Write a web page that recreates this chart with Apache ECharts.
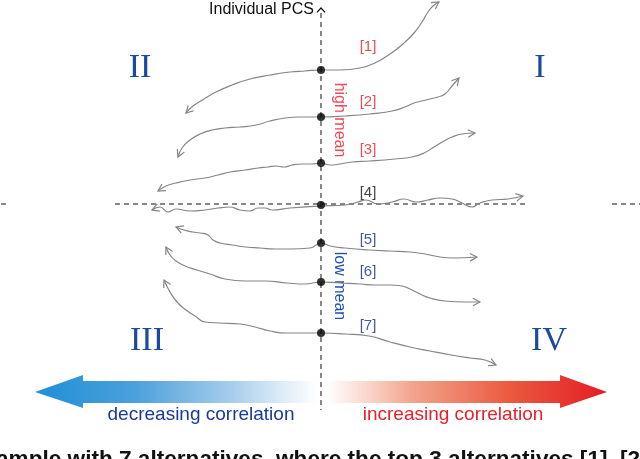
<!DOCTYPE html>
<html>
<head>
<meta charset="utf-8">
<script src="https://cdn.jsdelivr.net/npm/echarts@6/dist/echarts.min.js"></script>
<style>html,body{margin:0;padding:0;background:#fff}#c{width:640px;height:459px}</style>
</head>
<body>
<div id="c"></div>
<script>
// ---- data (diagram units) ----
const alternatives = ['[1]','[2]','[3]','[4]','[5]','[6]','[7]'];
const meanPCS = [70,117,163,205,243,282,333];
const labelX = [368,368,368,368,368,368,368];
const labelY = [47,102,150,193,240,272,326];
const curve1 = [[186,113],[193,106],[204,99],[216,92],[232,85],[250,79],[270,75],[290,72],[305,71],[321,70],[340,70],[360,68],[375,63],[390,54],[403,44],[414,33],[422,22],[428,12],[433,6],[439,2]];
const curve2 = [[178,157],[182,148],[190,140],[200,134],[212,130],[225,128],[240,127],[256,125],[270,121],[285,118],[300,117],[321,117],[345,116],[370,114],[392,111],[405,107],[414,103],[422,101],[430,99],[438,97],[445,94],[452,86],[459,78]];
const curve3 = [[158,191],[166,186],[176,183],[190,180],[205,178],[218,175],[230,172],[245,170],[258,168],[268,167],[276,166],[284,167],[292,165],[302,164],[312,164],[321,163],[330,165],[340,164],[352,162],[370,161],[395,159],[412,157],[424,153],[434,147],[444,141],[452,137],[462,134],[475,133]];
const curve4 = [[152,210],[160,207],[168,212],[176,209],[190,211],[205,210],[218,208],[230,207],[240,210],[250,211],[258,208],[265,208],[272,210],[290,208],[321,206],[345,205],[358,202],[366,200],[378,204],[392,202],[404,199],[416,202],[428,200],[440,198],[452,199],[462,203],[472,207],[480,203],[492,200],[508,199],[523,196]];
const curve5 = [[176,227],[184,230],[193,232],[200,233],[208,235],[213,240],[220,243],[232,245],[246,247],[260,248],[275,249],[290,249],[310,248],[321,243],[330,246],[345,248],[369,250],[390,251],[410,252],[425,254],[440,257],[452,258],[477,257]];
const curve6 = [[166,247],[170,255],[176,261],[185,266],[197,270],[210,274],[225,279],[245,281],[265,281],[287,283],[305,284],[321,282],[340,283],[360,284],[375,285],[390,285],[402,286],[410,289],[420,294],[430,298],[445,301],[465,302],[480,302]];
const curve7 = [[164,280],[170,292],[177,302],[186,310],[195,316],[205,322],[220,323],[240,324],[255,327],[270,331],[287,333],[305,333],[321,333],[345,334],[369,336],[390,342],[410,347],[430,351],[451,355],[470,358],[485,360],[496,365]];
const curves = [curve1,curve2,curve3,curve4,curve5,curve6,curve7];
const pcsAxis = [[321,13],[321,410]];
const corrAxis = [[115,204],[525,204]];
const corrAxisRight = [[612,204],[640,204]];
const corrAxisLeft = [[1,204],[6,204]];
const quadrants = ['I','II','III','IV'];
// -------------------------------

const labelColors = ['#e8202a','#e8202a','#e8202a','#111','#1a2a8a','#1a2a8a','#1a2a8a'];
const F = 'Liberation Sans, Arial, sans-serif';

const arrowData = [];
curves.forEach(c => {
  const n = c.length;
  arrowData.push([c[0][0], c[0][1], c[1][0], c[1][1]]);
  arrowData.push([c[n-1][0], c[n-1][1], c[n-2][0], c[n-2][1]]);
});

function arrowHead(color, L, a) {
  return function (params, api) {
    const t = api.coord([api.value(0), api.value(1)]);
    const p = api.coord([api.value(2), api.value(3)]);
    const ang = Math.atan2(t[1] - p[1], t[0] - p[0]);
    return {
      type: 'polyline',
      shape: { points: [
        [t[0] - L * Math.cos(ang - a), t[1] - L * Math.sin(ang - a)],
        t,
        [t[0] - L * Math.cos(ang + a), t[1] - L * Math.sin(ang + a)]
      ]},
      style: { stroke: color, lineWidth: 1.2, fill: null }
    };
  };
}

const series = [];
const dashStyle = { color: '#111', width: 1, type: [5, 4] };
[pcsAxis, corrAxis, corrAxisRight, corrAxisLeft].forEach(d => series.push({
  type: 'line', data: d, symbol: 'none', lineStyle: dashStyle, silent: true, z: 1
}));
curves.forEach(c => series.push({
  type: 'line', data: c, symbol: 'none', smooth: 0.5,
  lineStyle: { color: '#858585', width: 1.2 }, silent: true, z: 2
}));
series.push({
  type: 'custom', renderItem: arrowHead('#858585', 8, 0.5), data: arrowData,
  encode: { x: [0, 2], y: [1, 3] }, z: 3, silent: true
});
series.push({
  type: 'custom', renderItem: arrowHead('#111', 6, 0.75), data: [[321, 8, 321, 20]],
  encode: { x: [0, 2], y: [1, 3] }, z: 3, silent: true
});
series.push({
  type: 'scatter', data: meanPCS.map(v => [321, v]), symbolSize: 8,
  itemStyle: { color: '#000' }, z: 4, silent: true
});
series.push({
  type: 'scatter', symbolSize: 0, silent: true, z: 4,
  data: alternatives.map((n, i) => ({
    value: [labelX[i], labelY[i]], name: n,
    label: { show: true, position: 'inside', formatter: n, color: labelColors[i],
      fontSize: 15, fontFamily: F }
  }))
});

const grad = (stops) => ({ type: 'linear', x: 0, y: 0, x2: 1, y2: 0, colorStops: stops });

const option = {
  animation: false,
  grid: { left: 0, right: 0, top: 0, bottom: 0 },
  xAxis: { type: 'value', min: 0, max: 640, show: false },
  yAxis: { type: 'value', min: 0, max: 459, inverse: true, show: false },
  series: series,
  graphic: [
    { type: 'text', x: 314, y: 10, style: { text: 'Individual PCS', font: '16px ' + F, fill: '#111', align: 'right', verticalAlign: 'middle' } },
    { type: 'text', x: 140, y: 68, style: { text: quadrants[1], font: '34px Liberation Serif, serif', fill: '#1a4aa0', align: 'center', verticalAlign: 'middle' } },
    { type: 'text', x: 540, y: 68, style: { text: quadrants[0], font: '34px Liberation Serif, serif', fill: '#1a4aa0', align: 'center', verticalAlign: 'middle' } },
    { type: 'text', x: 147, y: 341, style: { text: quadrants[2], font: '34px Liberation Serif, serif', fill: '#1a4aa0', align: 'center', verticalAlign: 'middle' } },
    { type: 'text', x: 549, y: 341, style: { text: quadrants[3], font: '34px Liberation Serif, serif', fill: '#1a4aa0', align: 'center', verticalAlign: 'middle' } },
    { type: 'text', x: 339, y: 120, rotation: -Math.PI / 2, style: { text: 'high mean', font: '16px ' + F, fill: '#f04a55', align: 'center', verticalAlign: 'middle' } },
    { type: 'text', x: 339, y: 286, rotation: -Math.PI / 2, style: { text: 'low mean', font: '16px ' + F, fill: '#2050b0', align: 'center', verticalAlign: 'middle' } },
    { type: 'polygon', shape: { points: [[35,392],[83,375],[83,381],[317,381],[317,403],[83,403],[83,408]] },
      style: { fill: grad([{offset:0,color:'#1f8fd6'},{offset:0.35,color:'#4aa0db'},{offset:0.7,color:'#a8cdec'},{offset:1,color:'rgba(255,255,255,0.9)'}]) } },
    { type: 'polygon', shape: { points: [[607,392],[560,375],[560,381],[327,381],[327,403],[560,403],[560,408]] },
      style: { fill: grad([{offset:0,color:'rgba(255,255,255,0.9)'},{offset:0.3,color:'#f2a58e'},{offset:0.65,color:'#ea5a40'},{offset:1,color:'#e41c24'}]) } },
    { type: 'text', x: 201, y: 415, style: { text: 'decreasing correlation', font: '19px ' + F, fill: '#1a3a9a', align: 'center', verticalAlign: 'middle' } },
    { type: 'text', x: 453, y: 415, style: { text: 'increasing correlation', font: '19px ' + F, fill: '#e8202a', align: 'center', verticalAlign: 'middle' } },
    { type: 'text', x: -4, y: 448, style: { text: 'ample with 7 alternatives, where the top 3 alternatives [1], [2]', font: 'bold 22.6px ' + F, fill: '#111' } }
  ]
};
echarts.init(document.getElementById('c')).setOption(option);
</script>
</body>
</html>
